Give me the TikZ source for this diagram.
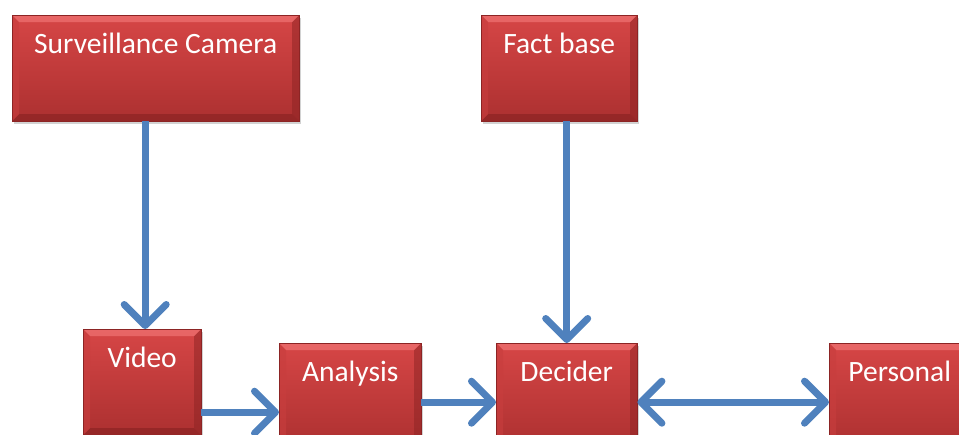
\documentclass[tikz,border=0pt]{standalone}
\usepackage{fontspec}
\setmainfont{Carlito}
\usetikzlibrary{arrows.meta,shadows}
\definecolor{arrowblue}{RGB}{79,129,189}
\definecolor{facetop}{RGB}{214,70,70}
\definecolor{facebot}{RGB}{172,48,48}
\definecolor{bevlight}{RGB}{236,110,110}
\definecolor{bevdark}{RGB}{140,36,36}
\definecolor{bevside}{RGB}{200,62,62}
\begin{document}
\begin{tikzpicture}[x=1pt,y=-1pt,
  boxstyle/.style={rectangle, anchor=north west, inner sep=0pt,
    minimum height=106pt, text=white,
    font=\fontsize{29.5}{34}\selectfont,
    text height=38pt, text depth=68pt,
    top color=facetop, bottom color=facebot,
    draw=bevdark, line width=0.4pt,
    drop shadow={shadow xshift=2pt, shadow yshift=-3pt, opacity=0.35},
    path picture={
      \fill[bevlight,opacity=0.8] (path picture bounding box.north west) -- (path picture bounding box.north east)
        -- ([shift={(-7pt,-7pt)}]path picture bounding box.north east) -- ([shift={(7pt,-7pt)}]path picture bounding box.north west) -- cycle;
      \fill[bevside,opacity=0.6] (path picture bounding box.north west) -- ([shift={(7pt,-7pt)}]path picture bounding box.north west)
        -- ([shift={(7pt,7pt)}]path picture bounding box.south west) -- (path picture bounding box.south west) -- cycle;
      \fill[bevdark,opacity=0.5] (path picture bounding box.north east) -- ([shift={(-7pt,-7pt)}]path picture bounding box.north east)
        -- ([shift={(-7pt,7pt)}]path picture bounding box.south east) -- (path picture bounding box.south east) -- cycle;
      \fill[bevdark,opacity=0.7] (path picture bounding box.south west) -- (path picture bounding box.south east)
        -- ([shift={(-7pt,7pt)}]path picture bounding box.south east) -- ([shift={(7pt,7pt)}]path picture bounding box.south west) -- cycle;
    }},
  arr/.style={draw=arrowblue, line width=7pt,
    -{Straight Barb[length=21pt,width=42pt,round]}},
  darr/.style={draw=arrowblue, line width=7pt,
    {Straight Barb[length=21pt,width=42pt,round]}-{Straight Barb[length=21pt,width=42pt,round]}}
]
\useasboundingbox (0,0) rectangle (959,434);
\clip (0,0) rectangle (959,434);
\fill[white] (0,0) rectangle (959,434);

\node[boxstyle, minimum width=287pt] (cam) at (12,15) {Surveillance Camera};
\node[boxstyle, minimum width=156pt] (fact) at (481,15) {Fact base};
\node[boxstyle, minimum width=118pt] (video) at (83,329) {Video};
\node[boxstyle, minimum width=142pt] (analysis) at (279,343) {Analysis};
\node[boxstyle, minimum width=141pt] (decider) at (496,343) {Decider};
\node[boxstyle, minimum width=141pt] (personal) at (829,343) {Personal};

\draw[arr] ([xshift=3pt]video.north |- cam.south) -- ([xshift=3pt]video.north);
\draw[arr] (decider.north |- fact.south) -- (decider.north);
\draw[arr] ([yshift=-30pt]video.east) -- ([yshift=-30pt]video.east -| analysis.west);
\draw[arr] ([yshift=-6pt]analysis.east) -- ([yshift=-6pt]analysis.east -| decider.west);
\draw[darr] ([yshift=-6pt]decider.east) -- ([yshift=-6pt]decider.east -| personal.west);
\end{tikzpicture}
\end{document}
